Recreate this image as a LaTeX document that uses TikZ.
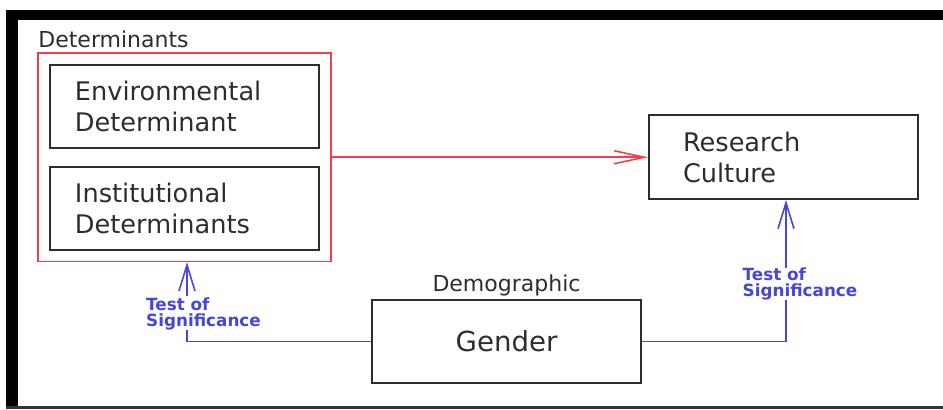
\documentclass[tikz,border=0pt]{standalone}
\usepackage{fontspec}
\setmainfont{DejaVu Sans}
\usepackage{tikz}
\usetikzlibrary{shapes,arrows.meta}
\usetikzlibrary{positioning,fit}

\definecolor{boxred}{RGB}{250,60,70}
\definecolor{testblue}{RGB}{70,70,215}
\definecolor{boxgray}{RGB}{45,45,45}

\begin{document}
\begin{tikzpicture}[x=0.5pt,y=-0.5pt,
    box/.style={draw=boxgray,line width=1pt,minimum width=134.5pt,minimum height=41.5pt,
        align=left,inner ysep=0pt,text=boxgray,font=\fontsize{12.8}{15.5}\selectfont},
    redbox/.style={draw=boxred,line width=0.7pt,inner sep=5.5pt},
    lbl/.style={inner sep=0pt,font=\fontsize{11}{13}\selectfont,text=boxgray},
    testlbl/.style={inner sep=0pt,align=left,text=testblue,
        font=\fontsize{8.4}{8}\selectfont\bfseries},
    redarrow/.style={draw=boxred,line width=0.8pt,-{Straight Barb[length=15pt,width=6.5pt]}},
    bluearrow/.style={draw=testblue,line width=0.8pt,-{Straight Barb[length=13pt,width=8pt]}},
    blueline/.style={draw=testblue,line width=0.8pt}]
    \useasboundingbox (0,0) rectangle (943,409);
    % frame
    \draw[line width=6pt] (12,409) -- (12,15);
    \draw[line width=5pt] (6,15) -- (943,15);
    \draw[line width=1.5pt,black!80] (6,407.5) -- (943,407.5);

    \node[box,inner xsep=12.5pt,text width=109.5pt] (env) at (184.5,106.5) {Environmental\\Determinant};
    \node[box,inner xsep=12.5pt,text width=109.5pt] (inst) at (184.5,208) {Institutional\\Determinants};
    \node[redbox,fit=(env)(inst)] (dets) {};
    \node[lbl,anchor=base west] (detlbl) at (38,47) {Determinants};

    \node[box,inner xsep=17pt,text width=100.5pt,minimum height=42pt] (research) at (783.5,157) {Research\\Culture};
    \node[box,align=center,font=\fontsize{13.8}{16}\selectfont] (gender) at (506.5,341.5) {Gender};
    \node[lbl,above=1.5pt of gender] (demo) {Demographic};

    \node[testlbl] (testl) at (203.5,314) {Test of\\Significance};
    \node[testlbl] (testr) at (800,284) {Test of\\Significance};

    \coordinate (ltop) at (187,296);
    \coordinate (lbot) at (187,330);
    \coordinate (rtop) at (786,268);
    \coordinate (rbot) at (786,300);

    \draw[redarrow] (dets.east) -- (dets.east -| research.west);
    \draw[bluearrow] (ltop) -- (ltop |- dets.south);
    \draw[blueline] (gender.west) -| (lbot);
    \draw[bluearrow] (rtop) -- (rtop |- research.south);
    \draw[blueline] (gender.east) -| (rbot);
\end{tikzpicture}
\end{document}
